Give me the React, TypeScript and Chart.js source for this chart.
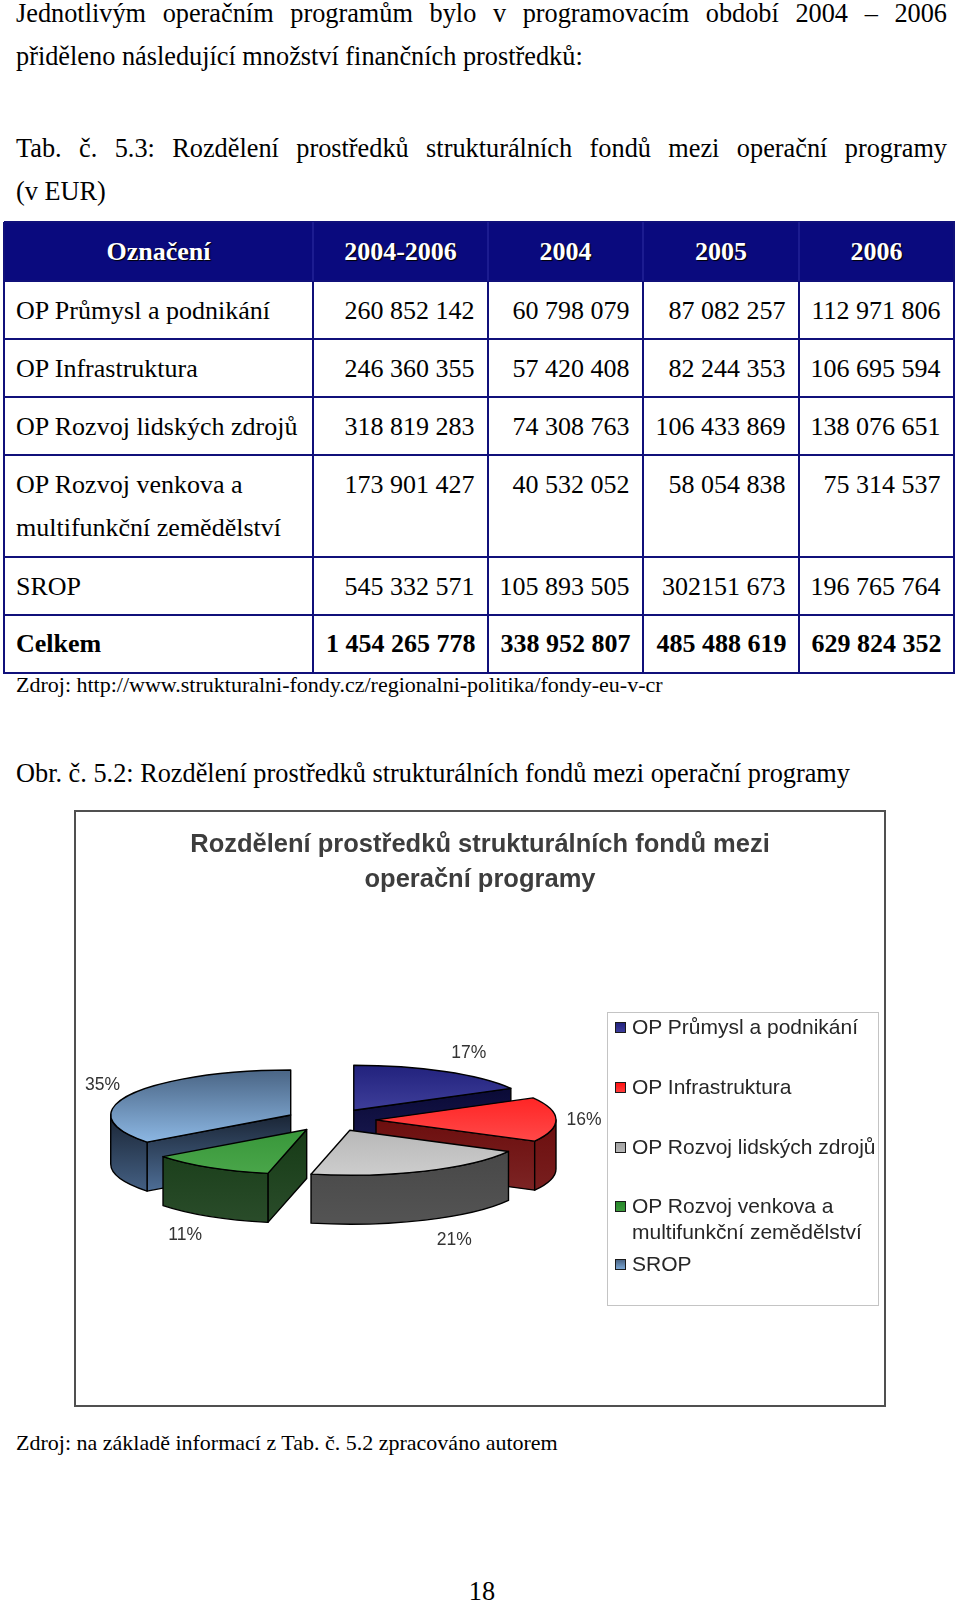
import React, { useEffect, useRef } from 'react';
import { Chart, registerables } from 'chart.js';

Chart.register(...registerables);

// ---------- data ----------
const programs = [
  'OP Průmysl a podnikání',
  'OP Infrastruktura',
  'OP Rozvoj lidských zdrojů',
  'OP Rozvoj venkova a multifunkční zemědělství',
  'SROP',
];
const legendLines = [
  ['OP Průmysl a podnikání'],
  ['OP Infrastruktura'],
  ['OP Rozvoj lidských zdrojů'],
  ['OP Rozvoj venkova a', 'multifunkční zemědělství'],
  ['SROP'],
];
const funds0406 = [260852142, 246360355, 318819283, 173901427, 545332571];

const tableHeader = ['Označení', '2004-2006', '2004', '2005', '2006'];
const rowLabels = [
  ['OP Průmysl a podnikání'],
  ['OP Infrastruktura'],
  ['OP Rozvoj lidských zdrojů'],
  ['OP Rozvoj venkova a', 'multifunkční zemědělství'],
  ['SROP'],
];
const col0406 = ['260 852 142', '246 360 355', '318 819 283', '173 901 427', '545 332 571'];
const col2004 = ['60 798 079', '57 420 408', '74 308 763', '40 532 052', '105 893 505'];
const col2005 = ['87 082 257', '82 244 353', '106 433 869', '58 054 838', '302151 673'];
const col2006 = ['112 971 806', '106 695 594', '138 076 651', '75 314 537', '196 765 764'];
const totalLabel = 'Celkem';
const totalsRow = ['1 454 265 778', '338 952 807', '485 488 619', '629 824 352'];

// ---------- style ----------
const topColors = [
  ['#22227d', '#5a5ab6'],
  ['#ff1212', '#ff5c5c'],
  ['#a2a2a2', '#cdcdcd'],
  ['#26882a', '#4aa64a'],
  ['#4a6585', '#9ccbfa'],
];
const sideColors = [
  ['#0a0a36', '#1c1c55'],
  ['#6c0e0e', '#7c2424'],
  ['#444444', '#545454'],
  ['#163b16', '#2a4c2a'],
  ['#1a2535', '#4e6e96'],
];
const markerColors = ['#3c3c9c', '#ff3a3a', '#b4b4b4', '#3a983a', '#7aa6d4'];

const SERIF = '"Liberation Serif", "Times New Roman", serif';
const SANS = '"Liberation Sans", Arial, sans-serif';
const TILT = 0.25;
const DEPTH = 49;
const EXPLODE = 45;
const PIE_RADIUS = 180;

const pie3d = {
  id: 'pie3d',
  beforeDatasetsDraw(chart: any) {
    const ctx = chart.ctx as CanvasRenderingContext2D;
    const meta = chart.getDatasetMeta(0);
    const values = chart.data.datasets[0].data as number[];
    const sum = values.reduce((a, b) => a + b, 0);
    const slices = meta.data.map((el: any, i: number) => {
      const p = el.getProps(['x', 'y', 'startAngle', 'endAngle', 'outerRadius'], true);
      const off = el.options.offset || 0;
      const mid = (p.startAngle + p.endAngle) / 2;
      const R = p.outerRadius;
      const ry = R * TILT;
      return {
        i,
        s: p.startAngle,
        e: p.endAngle,
        mid,
        R,
        ry,
        cx: p.x + Math.cos(mid) * off,
        cy: p.y + Math.sin(mid) * off * TILT,
      };
    });

    ctx.save();
    ctx.lineWidth = 1.4;
    ctx.strokeStyle = '#000';
    ctx.lineJoin = 'round';

    const order = [...slices].sort((a, b) => Math.sin(a.mid) - Math.sin(b.mid));
    // sides
    for (const sl of order) {
      const [sTop, sBot] = sideColors[sl.i];
      const faces: number[] = [];
      if (Math.cos(sl.s) < -1e-3) faces.push(sl.s);
      if (Math.cos(sl.e) > 1e-3) faces.push(sl.e);
      for (const a of faces) {
        const px = sl.cx + sl.R * Math.cos(a);
        const py = sl.cy + sl.ry * Math.sin(a);
        const g = ctx.createLinearGradient(0, Math.min(sl.cy, py), 0, Math.max(sl.cy, py) + DEPTH);
        g.addColorStop(0, sTop);
        g.addColorStop(1, sBot);
        ctx.beginPath();
        ctx.moveTo(sl.cx, sl.cy);
        ctx.lineTo(px, py);
        ctx.lineTo(px, py + DEPTH);
        ctx.lineTo(sl.cx, sl.cy + DEPTH);
        ctx.closePath();
        ctx.fillStyle = g;
        ctx.fill();
        ctx.stroke();
      }
      const a0 = Math.max(sl.s, 0);
      const b0 = Math.min(sl.e, Math.PI);
      if (a0 < b0) {
        const g = ctx.createLinearGradient(0, sl.cy, 0, sl.cy + sl.ry + DEPTH);
        g.addColorStop(0, sTop);
        g.addColorStop(1, sBot);
        ctx.beginPath();
        ctx.ellipse(sl.cx, sl.cy, sl.R, sl.ry, 0, a0, b0, false);
        ctx.lineTo(sl.cx + sl.R * Math.cos(b0), sl.cy + sl.ry * Math.sin(b0) + DEPTH);
        ctx.ellipse(sl.cx, sl.cy + DEPTH, sl.R, sl.ry, 0, b0, a0, true);
        ctx.closePath();
        ctx.fillStyle = g;
        ctx.fill();
        ctx.stroke();
      }
    }
    // tops
    for (const sl of slices) {
      const [tDark, tLight] = topColors[sl.i];
      const g = ctx.createLinearGradient(0, sl.cy - sl.ry, 0, sl.cy + sl.ry);
      g.addColorStop(0, tDark);
      g.addColorStop(1, tLight);
      ctx.beginPath();
      ctx.moveTo(sl.cx, sl.cy);
      ctx.ellipse(sl.cx, sl.cy, sl.R, sl.ry, 0, sl.s, sl.e, false);
      ctx.closePath();
      ctx.fillStyle = g;
      ctx.fill();
      ctx.stroke();
    }
    // labels
    ctx.fillStyle = '#333';
    ctx.font = '17.5px ' + SANS;
    ctx.textAlign = 'center';
    ctx.textBaseline = 'middle';
    for (const sl of slices) {
      const c = Math.cos(sl.mid);
      const s = Math.sin(sl.mid);
      const rimX = sl.cx + sl.R * c;
      const rimY = sl.cy + sl.ry * s + (s > 0 ? DEPTH : 0);
      const lx = rimX + 8 * c + 20 * Math.sign(c) + (s > 0.5 && c > 0 ? 6 : 0);
      const ly = rimY + 22 * s + 0.5;
      const pct = Math.round((values[sl.i] / sum) * 100) + '%';
      ctx.fillText(pct, lx, ly);
    }
    ctx.restore();
    return false;
  },
};

const colX = [4, 313, 488, 643, 799, 954];
const rowY = [222, 281, 339, 397, 455, 557, 614.5, 673];
const NAVY = '#10107a';

function abs(left: number, top: number, extra: any = {}) {
  return { position: 'absolute' as const, left, top, ...extra };
}

export default function App() {
  const canvasRef = useRef<HTMLCanvasElement>(null);

  useEffect(() => {
    const chart = new Chart(canvasRef.current as HTMLCanvasElement, {
      type: 'pie',
      data: {
        labels: programs,
        datasets: [
          {
            data: funds0406,
            offset: EXPLODE,
            radius: PIE_RADIUS,
            backgroundColor: markerColors,
            borderWidth: 0,
          } as any,
        ],
      },
      options: {
        responsive: false,
        animation: false,
        events: [],
        radius: PIE_RADIUS,
        layout: { padding: { left: 0, right: 298, top: 84, bottom: 61 } },
        plugins: {
          legend: { display: false },
          title: { display: false },
          tooltip: { enabled: false },
        },
      } as any,
      plugins: [pie3d as any],
    });
    return () => chart.destroy();
  }, []);

  const columns = [col0406, col2004, col2005, col2006];
  const cells: any[] = [];
  // header
  tableHeader.forEach((h, j) => {
    cells.push(
      <div
        key={'h' + j}
        style={abs(colX[j], rowY[0] + 7.5, {
          width: colX[j + 1] - colX[j],
          textAlign: 'center',
          fontWeight: 'bold',
          color: '#fff',
          textShadow: '1px 1px 1px #000',
        })}
      >
        {h}
      </div>
    );
  });
  rowLabels.forEach((lab, r) => {
    const top = rowY[r + 1] + 7.5;
    cells.push(
      <div key={'l' + r} style={abs(colX[0] + 12, top, { whiteSpace: 'nowrap' })}>
        {lab.map((t, k) => (
          <div key={k}>{t}</div>
        ))}
      </div>
    );
    columns.forEach((col, j) => {
      cells.push(
        <div
          key={'c' + r + '_' + j}
          style={abs(colX[j + 1], top, { width: colX[j + 2] - colX[j + 1] - 13.5, textAlign: 'right', whiteSpace: 'nowrap' })}
        >
          {col[r]}
        </div>
      );
    });
  });
  const tTop = rowY[6] + 7.5;
  cells.push(
    <div key="tl" style={abs(colX[0] + 12, tTop, { fontWeight: 'bold' })}>
      {totalLabel}
    </div>
  );
  totalsRow.forEach((v, j) => {
    cells.push(
      <div
        key={'t' + j}
        style={abs(colX[j + 1], tTop, { width: colX[j + 2] - colX[j + 1] - 12.5, textAlign: 'right', fontWeight: 'bold', whiteSpace: 'nowrap' })}
      >
        {v}
      </div>
    );
  });

  const lines: any[] = [];
  rowY.forEach((y, k) => {
    lines.push(<div key={'hl' + k} style={abs(colX[0], y - 1, { width: colX[5] - colX[0] + 1, height: 2, background: NAVY })} />);
  });
  colX.forEach((x, k) => {
    lines.push(
      <div
        key={'vl' + k}
        style={abs(x - 1, rowY[0], {
          width: 2,
          height: rowY[7] - rowY[0] + 1,
          background: k > 0 && k < 5 ? `linear-gradient(#1c1c90 0px, #1c1c90 ${rowY[1] - rowY[0]}px, ${NAVY} ${rowY[1] - rowY[0]}px)` : NAVY,
        })}
      />
    );
  });

  const legendTops = [1013.6, 1073.6, 1133.6, 1192.6, 1250.6];

  return (
    <div
      style={{
        position: 'absolute',
        left: 0,
        top: 0,
        width: 960,
        height: 1602,
        overflow: 'hidden',
        background: '#fff',
        fontFamily: SERIF,
        color: '#000',
      }}
    >
      {/* paragraph */}
      <div style={abs(16, -8.4, { width: 931, fontSize: 26.3, lineHeight: '43px' })}>
        <div style={{ textAlign: 'justify', textAlignLast: 'justify' as any }}>
          Jednotlivým operačním programům bylo v programovacím období 2004 – 2006
        </div>
        <div>přiděleno následující množství finančních prostředků:</div>
      </div>
      <div style={abs(16, 126.6, { width: 931, fontSize: 26.3, lineHeight: '43px' })}>
        <div style={{ textAlign: 'justify', textAlignLast: 'justify' as any }}>
          Tab. č. 5.3: Rozdělení prostředků strukturálních fondů mezi operační programy
        </div>
        <div>(v EUR)</div>
      </div>

      {/* table */}
      <div style={abs(colX[0], rowY[0], { width: colX[5] - colX[0], height: rowY[1] - rowY[0], background: '#0a0a7e' })} />
      <div style={{ position: 'absolute', left: 0, top: 0, fontSize: 26, lineHeight: '43px' }}>{cells}</div>
      {lines}

      <div style={abs(16, 669.6, { fontSize: 22, lineHeight: '30px', whiteSpace: 'nowrap' })}>
        Zdroj: http://www.strukturalni-fondy.cz/regionalni-politika/fondy-eu-v-cr
      </div>

      <div style={abs(16, 751.6, { fontSize: 26.3, lineHeight: '43px', whiteSpace: 'nowrap' })}>
        Obr. č. 5.2: Rozdělení prostředků strukturálních fondů mezi operační programy
      </div>

      {/* chart frame */}
      <div style={abs(74, 810, { width: 808, height: 593, border: '2px solid #505050', background: '#fff' })}>
        <canvas ref={canvasRef} width={808} height={593} style={{ display: 'block', width: 808, height: 593 }} />
        <div
          style={abs(0, 14, {
            width: 808,
            textAlign: 'center',
            fontFamily: SANS,
            fontWeight: 'bold',
            fontSize: 25.5,
            lineHeight: '35px',
            color: '#3d3d3d',
          })}
        >
          <div>Rozdělení prostředků strukturálních fondů mezi</div>
          <div>operační programy</div>
        </div>
      </div>

      {/* legend */}
      <div style={abs(607, 1012, { width: 272, height: 294, border: '1px solid #c4c4c4', boxSizing: 'border-box' })} />
      {legendLines.map((ls, i) => (
        <div key={'lg' + i}>
          <div
            style={abs(615, legendTops[i] + 8.5, {
              width: 9,
              height: 9,
              border: '1px solid #1a1a1a',
              background: `linear-gradient(${topColors[i][0]}, ${markerColors[i]})`,
            })}
          />
          <div
            style={abs(632, legendTops[i], {
              fontFamily: SANS,
              fontSize: 21,
              lineHeight: '26px',
              color: '#262626',
              whiteSpace: 'nowrap',
            })}
          >
            {ls.map((t, k) => (
              <div key={k}>{t}</div>
            ))}
          </div>
        </div>
      ))}

      <div style={abs(16, 1427.6, { fontSize: 22, lineHeight: '30px', whiteSpace: 'nowrap' })}>
        Zdroj: na základě informací z Tab. č. 5.2 zpracováno autorem
      </div>

      <div style={abs(0, 1569.6, { width: 964, textAlign: 'center', fontSize: 26.3, lineHeight: '43px' })}>18</div>
    </div>
  );
}
